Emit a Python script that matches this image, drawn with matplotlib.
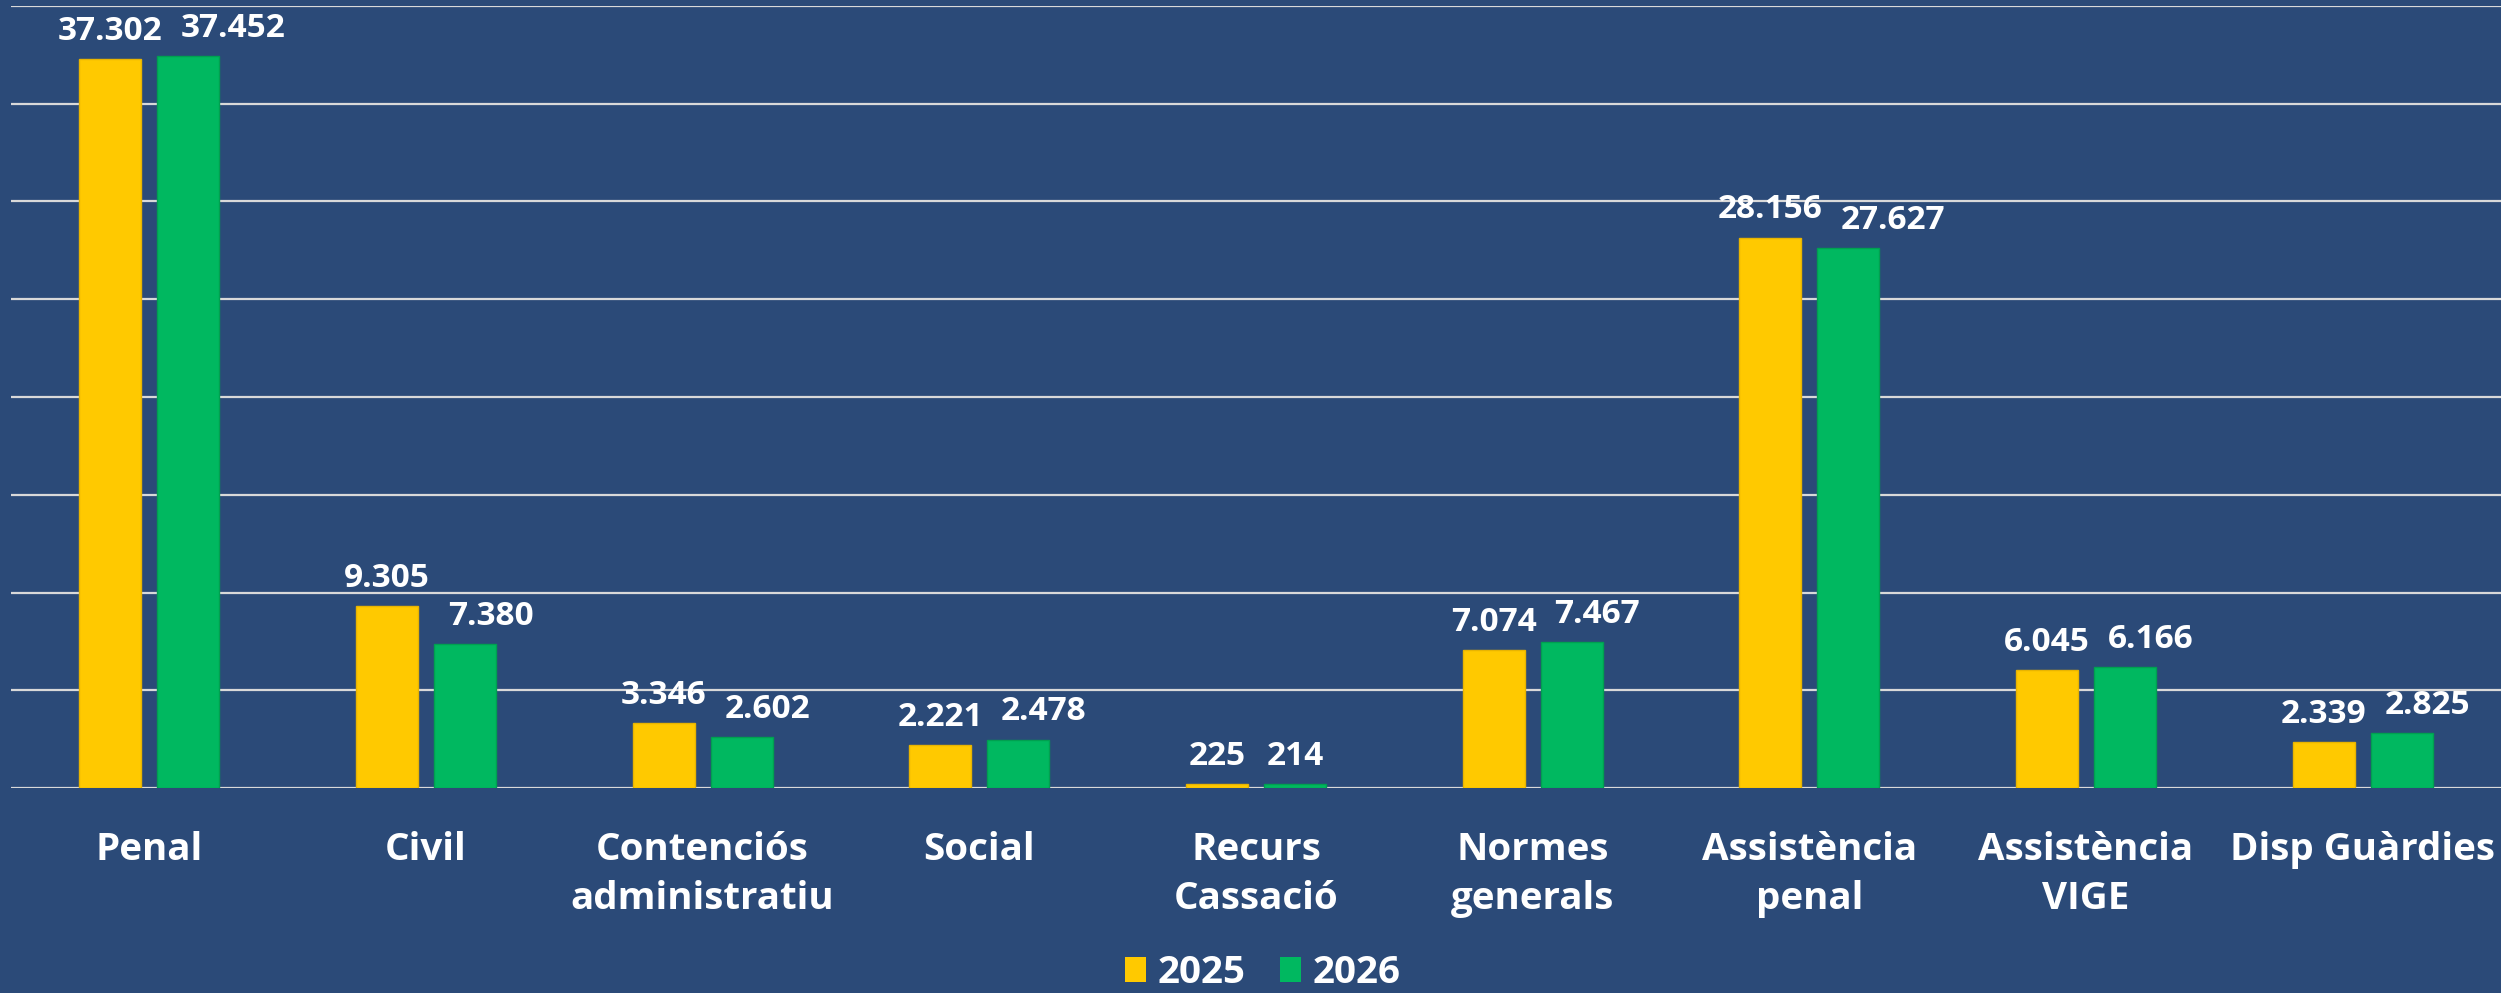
import matplotlib.pyplot as plt
import numpy as np
from matplotlib.patches import Patch

# data
categories = ["Penal", "Civil", "Contenciós\nadministratiu", "Social", "Recurs\nCassació",
              "Normes\ngenerals", "Assistència\npenal", "Assistència\nVIGE", "Disp Guàrdies"]
values_2025 = [37302, 9305, 3346, 2221, 225, 7074, 28156, 6045, 2339]
values_2026 = [37452, 7380, 2602, 2478, 214, 7467, 27627, 6166, 2825]
series_names = ["2025", "2026"]

bg = "#2B4A78"
yellow = "#FFC900"
green = "#00B860"

plt.rcParams['font.family'] = ['Open Sans', 'DejaVu Sans']
plt.rcParams['font.weight'] = 'bold'

fig = plt.figure(figsize=(25.01, 9.93), dpi=100, facecolor=bg)
ax = fig.add_axes([0.0044, 0.2064, 0.9956, 0.7876])
ax.set_facecolor(bg)

x = np.arange(len(categories))
w = 0.225
off = 0.141

b1 = ax.bar(x - off, values_2025, w, color=yellow, edgecolor="#E8B400", linewidth=1, zorder=3)
b2 = ax.bar(x + off, values_2026, w, color=green, edgecolor="#00A050", linewidth=1, zorder=3)

def fmt(v):
    return f"{v:,}".replace(",", ".")

labels = []
for bars, vals in ((b1, values_2025), (b2, values_2026)):
    row = []
    for r, v in zip(bars, vals):
        t = ax.annotate(fmt(v), (r.get_x() + r.get_width() / 2, r.get_height()),
                        xytext=(0, 8), textcoords="offset points", ha="center", va="bottom",
                        color="white", fontsize=24, fontweight="bold", clip_on=False)
        row.append(t)
    labels.append(row)

ax.set_xlim(-0.5, len(categories) - 0.5)
ax.set_ylim(0, 40000)
ax.set_yticks(np.arange(0, 40001, 5000))
ax.set_yticklabels([])
ax.tick_params(axis="y", length=0)
ax.grid(axis="y", color="#D9D9D9", linewidth=1.6, zorder=0)
ax.set_axisbelow(True)

ax.set_xticks(x)
ax.set_xticklabels(categories, color="white", fontsize=27.7, fontweight="bold", linespacing=1.38)
ax.tick_params(axis="x", length=0, pad=31)

for s in ax.spines.values():
    s.set_visible(False)

# push the 2026 label to the right when it would collide with the 2025 label
fig.canvas.draw()
r = fig.canvas.get_renderer()
gap = 18
for ty, tg in zip(labels[0], labels[1]):
    e1 = ty.get_window_extent(r)
    e2 = tg.get_window_extent(r)
    need = e1.x1 + gap - e2.x0
    if need > 0:
        tg.set_position((need * 72 / fig.dpi, 8))

handles = [Patch(facecolor=yellow, edgecolor="none"), Patch(facecolor=green, edgecolor="none")]
leg = fig.legend(handles, series_names, loc="lower center", bbox_to_anchor=(0.505, -0.034), ncol=2,
                 frameon=False, fontsize=27.7, handlelength=0.55, handleheight=0.6,
                 handletextpad=0.3, columnspacing=0.9)
for t in leg.get_texts():
    t.set_color("white")
    t.set_fontweight("bold")

fig.savefig("out.png", dpi=100, facecolor=bg)
